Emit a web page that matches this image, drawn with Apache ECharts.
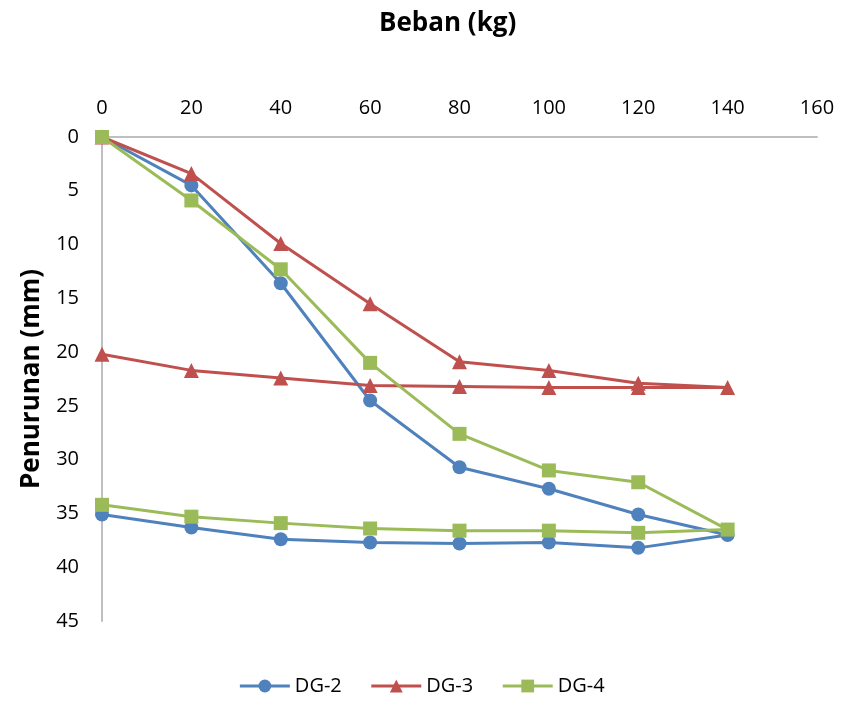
<!DOCTYPE html>
<html>
<head>
<meta charset="utf-8">
<script src="https://cdn.jsdelivr.net/npm/echarts@6/dist/echarts.min.js"></script>
<style>html,body{margin:0;padding:0;background:#fff}#c{width:843px;height:707px}</style>
</head>
<body>
<div id="c"></div>
<script>
// Load steps (kg): loading then unloading
const loadX = [0, 20, 40, 60, 80, 100, 120, 140];
const unloadX = [120, 100, 80, 60, 40, 20, 0];
// Settlement (mm)
const dg2Load = [0, 4.5, 13.6, 24.5, 30.7, 32.7, 35.1, 37.0];
const dg2Unload = [38.2, 37.7, 37.8, 37.7, 37.4, 36.3, 35.1];
const dg3Load = [0, 3.4, 9.9, 15.5, 20.9, 21.7, 22.9, 23.3];
const dg3Unload = [23.3, 23.3, 23.2, 23.1, 22.4, 21.7, 20.2];
const dg4Load = [0, 5.9, 12.3, 21.0, 27.6, 31.0, 32.1, 36.5];
const dg4Unload = [36.8, 36.6, 36.6, 36.4, 35.9, 35.3, 34.2];
const seriesNames = ['DG-2', 'DG-3', 'DG-4'];
const xTicks = [0, 160, 20];
const yTicks = [0, 45, 5];

function pairs(xl, yl, xu, yu) {
  const out = [];
  xl.forEach((x, i) => out.push([x, yl[i]]));
  xu.forEach((x, i) => out.push([x, yu[i]]));
  return out;
}

const colors = ['#4F81BD', '#C0504D', '#9BBB59'];
const symbols = ['circle', 'triangle', 'rect'];
const sizes = [14, 15, 14];
const datas = [
  pairs(loadX, dg2Load, unloadX, dg2Unload),
  pairs(loadX, dg3Load, unloadX, dg3Unload),
  pairs(loadX, dg4Load, unloadX, dg4Unload)
];

const FONT = 'Open Sans';
const chart = echarts.init(document.getElementById('c'), null, {renderer: 'canvas'});
chart.setOption({
  animation: false,
  backgroundColor: '#fff',
  textStyle: {fontFamily: FONT},
  title: {
    text: 'Beban (kg)', left: 374, top: 6,
    textStyle: {fontSize: 26, fontWeight: 'bold', color: '#000', fontFamily: FONT}
  },
  legend: {
    bottom: 6, left: 'center', itemWidth: 50, itemHeight: 16, itemGap: 28,
    data: seriesNames,
    lineStyle: {width: 3},
    textStyle: {fontSize: 20, color: '#000', fontFamily: FONT}
  },
  grid: {left: 102, right: 26, top: 137, bottom: 86, containLabel: false},
  xAxis: {
    type: 'value', position: 'top', min: xTicks[0], max: xTicks[1], interval: xTicks[2],
    axisLine: {show: true, onZero: false, lineStyle: {color: '#BFBFBF', width: 2}},
    axisTick: {show: false},
    splitLine: {show: false},
    axisLabel: {fontSize: 20, color: '#000', margin: 19, fontFamily: FONT}
  },
  yAxis: {
    type: 'value', inverse: true, min: yTicks[0], max: yTicks[1], interval: yTicks[2],
    name: 'Penurunan (mm)', nameLocation: 'middle', nameGap: 57, nameRotate: 90,
    nameTextStyle: {fontSize: 26, fontWeight: 'bold', color: '#000', fontFamily: FONT},
    axisLine: {show: true, onZero: false, lineStyle: {color: '#BFBFBF', width: 2}},
    axisTick: {show: false},
    splitLine: {show: false},
    axisLabel: {fontSize: 20, color: '#000', margin: 23, fontFamily: FONT}
  },
  series: seriesNames.map((n, i) => ({
    name: n, type: 'line', data: datas[i],
    symbol: symbols[i], symbolSize: sizes[i],
    lineStyle: {color: colors[i], width: 3},
    itemStyle: {color: colors[i]},
    clip: false
  }))
});
</script>
</body>
</html>
